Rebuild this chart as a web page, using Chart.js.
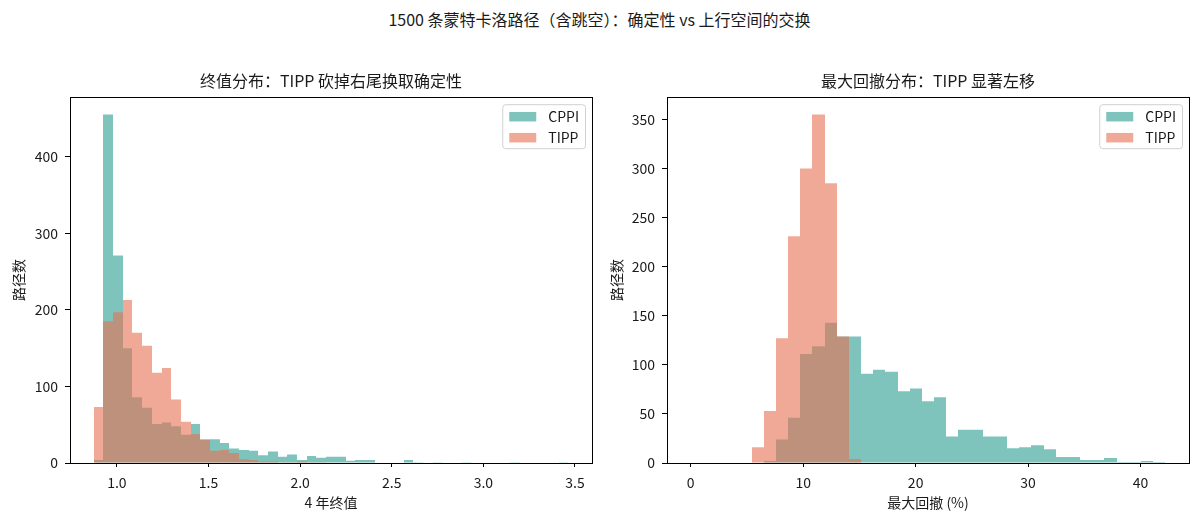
<!DOCTYPE html>
<html><head><meta charset="utf-8">
<script src="https://cdn.jsdelivr.net/npm/chart.js@4.4.1/dist/chart.umd.min.js"></script>
<style>
html,body{margin:0;padding:0;background:#fff;}
#wrap{position:relative;width:1199px;height:521px;overflow:hidden;background:#fff;}
#sup{position:absolute;left:0;top:9px;width:1199px;text-align:center;font-family:"Noto Sans CJK SC","Noto Sans",sans-serif;font-size:16px;line-height:20px;color:#1a1a1a;}
.box{position:absolute;top:0;height:521px;}
</style></head>
<body><div id="wrap">
<div id="sup">1500 条蒙特卡洛路径（含跳空）：确定性 vs 上行空间的交换</div>
<div class="box" style="left:0;width:600px"><canvas id="c1"></canvas></div>
<div class="box" style="left:600px;width:599px"><canvas id="c2"></canvas></div>
</div>
<script>
// ---------- data ----------
const seriesNames = ['CPPI', 'TIPP'];

// Left panel: 4-year terminal value histogram (49 bins)
const finalValueBinStart = 0.8735;
const finalValueBinWidth = 0.05286;
const finalValueCPPI = [4,455,271,150,86,72,51,53,48,37,51,31,31,26,19,17,16,10,15,8,11,4,9,7,8,8,3,4,4,0,0,0,4,1,0,1,0,0,1,0,0,0,0,1,0,0,0,0,1];
const finalValueTIPP = [73,185,197,213,170,153,118,124,83,54,38,30,16,17,13,5,4,2,2,1,1,2,1,1,0,0,0,0,0,0,0,0,0,0,0,0,0,0,0,0,0,0,0,0,0,0,0,0,0];
const finalValueXTicks = [1.0, 1.5, 2.0, 2.5, 3.0, 3.5];
const finalValueYTicks = [0, 100, 200, 300, 400];

// Right panel: max drawdown (%) histogram (39 bins)
const drawdownBinStart = 0;
const drawdownBinWidth = 1.0821;
const drawdownCPPI = [0,0,0,0,0,0,2,24,46,111,119,143,129,129,91,95,93,73,76,63,67,27,34,34,27,27,15,16,18,14,6,6,3,3,5,1,1,2,1];
const drawdownTIPP = [0,0,0,0,0,16,53,127,231,300,355,285,129,4,0,0,0,0,0,0,0,0,0,0,0,0,0,0,0,0,0,0,0,0,0,0,0,0,0];
const drawdownXTicks = [0, 10, 20, 30, 40];
const drawdownYTicks = [0, 50, 100, 150, 200, 250, 300, 350];

const titles = {
  left: '终值分布：TIPP 砍掉右尾换取确定性',
  right: '最大回撤分布：TIPP 显著左移',
  leftX: '4 年终值',
  rightX: '最大回撤 (%)',
  y: '路径数'
};

// ---------- style ----------
const FONT = '"Noto Sans CJK SC", "Noto Sans", sans-serif';
const COLORS = { CPPI: 'rgba(42,157,143,0.6)', TIPP: 'rgba(231,111,81,0.6)' };
const TEXT = '#1a1a1a';
Chart.defaults.font.family = FONT;
Chart.defaults.color = TEXT;

// snap bar edges to whole pixels so adjacent translucent bars show no seams
const snapPlugin = {
  id: 'snapBars',
  beforeDatasetsDraw(chart) {
    chart.getSortedVisibleDatasetMetas().forEach(meta => {
      meta.data.forEach(el => {
        const l = Math.round(el.x - el.width / 2);
        const r = Math.round(el.x + el.width / 2);
        el.x = (l + r) / 2;
        el.width = r - l;
      });
    });
  }
};

const framePlugin = {
  id: 'frame',
  afterDatasetsDraw(chart) {
    const a = chart.chartArea, ctx = chart.ctx;
    ctx.save();
    ctx.strokeStyle = '#000';
    ctx.lineWidth = 1;
    const l = Math.floor(a.left) + 0.5, t = Math.floor(a.top) + 0.5;
    const r = Math.floor(a.right) + 0.5, b = Math.floor(a.bottom) + 0.5;
    ctx.strokeRect(l, t, r - l, b - t);
    ctx.restore();
  }
};

const legendPlugin = {
  id: 'mplLegend',
  afterDraw(chart) {
    const a = chart.chartArea, ctx = chart.ctx;
    const ds = chart.data.datasets;
    ctx.save();
    ctx.font = '14px ' + FONT;
    const textW = Math.max(...ds.map(d => ctx.measureText(d.label).width));
    const w = 7 + 27 + 12 + textW + 6;
    const h = 44;
    const x0 = a.right - 7 - w, y0 = a.top + 7;
    ctx.beginPath();
    ctx.roundRect(x0 + 0.5, y0 + 0.5, w, h, 3);
    ctx.fillStyle = 'rgba(255,255,255,0.8)';
    ctx.fill();
    ctx.strokeStyle = '#d0d0d0';
    ctx.lineWidth = 1;
    ctx.stroke();
    ds.forEach((d, i) => {
      const cy = y0 + 12.5 + 21 * i;
      ctx.fillStyle = d.backgroundColor;
      ctx.fillRect(x0 + 7, cy - 4.75, 27, 9.5);
      ctx.fillStyle = TEXT;
      ctx.textBaseline = 'middle';
      ctx.textAlign = 'left';
      ctx.fillText(d.label, x0 + 46, cy);
    });
    ctx.restore();
  }
};

function toPoints(values, start, width) {
  return values.map((v, i) => ({ x: start + (i + 0.5) * width, y: v }));
}

function makeChart(id, cfg) {
  const mk = (name, vals, order) => ({
    label: name,
    data: toPoints(vals, cfg.start, cfg.width),
    backgroundColor: COLORS[name],
    borderWidth: 0,
    inflateAmount: 0,
    order: order,
    grouped: false,
    barPercentage: 1,
    categoryPercentage: 1
  });
  return new Chart(document.getElementById(id), {
    type: 'bar',
    data: { datasets: [mk(seriesNames[0], cfg.cppi, 2), mk(seriesNames[1], cfg.tipp, 1)] },
    options: {
      responsive: true,
      maintainAspectRatio: false,
      animation: false,
      devicePixelRatio: 1,
      layout: { padding: { top: 71, right: cfg.padRight, left: 0, bottom: 0 } },
      plugins: {
        legend: { display: false },
        tooltip: { enabled: false },
        title: {
          display: true, text: cfg.title, fullSize: false,
          font: { size: 16, weight: 'normal', family: FONT }, color: TEXT,
          padding: { top: 0, bottom: 7 }
        }
      },
      scales: {
        x: {
          type: 'linear', min: cfg.xMin, max: cfg.xMax, offset: false,
          grid: { display: true, drawOnChartArea: false, drawTicks: true, tickLength: 4, color: '#000', offset: false },
          border: { display: false },
          ticks: { font: { size: 14 }, color: TEXT, padding: 7, maxRotation: 0, autoSkip: false, callback: cfg.xFmt },
          title: { display: true, text: cfg.xTitle, font: { size: 14 }, color: TEXT, padding: { top: 0, bottom: 10 } },
          afterBuildTicks: s => { s.ticks = cfg.xTicks.map(v => ({ value: v })); },
          afterFit: s => { s.height = 58; }
        },
        y: {
          type: 'linear', min: 0, max: cfg.yMax,
          grid: { display: true, drawOnChartArea: false, drawTicks: true, tickLength: 5, color: '#000' },
          border: { display: false },
          ticks: { font: { size: 14 }, color: TEXT, padding: 7, autoSkip: false },
          title: { display: true, text: titles.y, font: { size: 14 }, color: TEXT, padding: { top: cfg.yTitlePad, bottom: 0 } },
          afterBuildTicks: s => { s.ticks = cfg.yTicks.map(v => ({ value: v })); },
          afterFit: s => { s.width = cfg.yWidth; }
        }
      }
    },
    plugins: [snapPlugin, framePlugin, legendPlugin]
  });
}

makeChart('c1', {
  cppi: finalValueCPPI, tipp: finalValueTIPP,
  start: finalValueBinStart, width: finalValueBinWidth,
  xMin: 0.744, xMax: 3.593, yMax: 477.75,
  xTicks: finalValueXTicks, yTicks: finalValueYTicks,
  xFmt: v => Number(v).toFixed(1),
  title: titles.left, xTitle: titles.leftX,
  padRight: 8, yWidth: 70, yTitlePad: 10.6
});

makeChart('c2', {
  cppi: drawdownCPPI, tipp: drawdownTIPP,
  start: drawdownBinStart, width: drawdownBinWidth,
  xMin: -2.11, xMax: 44.31, yMax: 372.75,
  xTicks: drawdownXTicks, yTicks: drawdownYTicks,
  xFmt: v => String(v),
  title: titles.right, xTitle: titles.rightX,
  padRight: 10, yWidth: 67, yTitlePad: 8.1
});
</script>
</body></html>
